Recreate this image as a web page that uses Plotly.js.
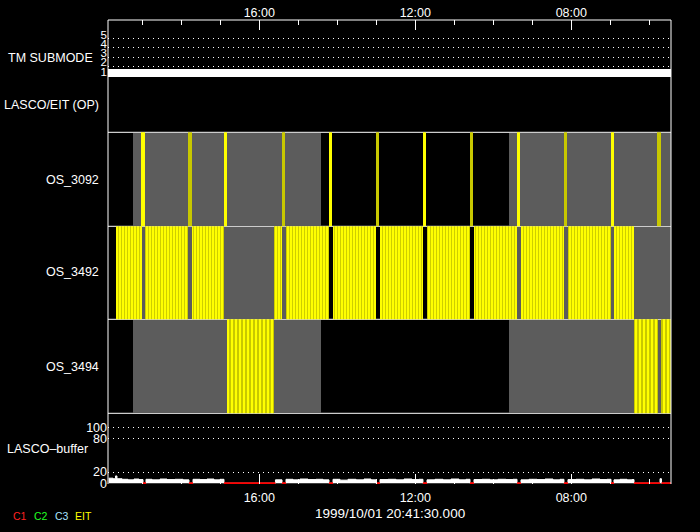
<!DOCTYPE html>
<html>
<head>
<meta charset="utf-8">
<script src="https://cdn.plot.ly/plotly-3.0.1.min.js"></script>
<style>
  html, body { margin: 0; padding: 0; background: #000; }
  #chart { width: 700px; height: 532px; }
</style>
</head>
<body>
<div id="chart"></div>
<script>
// ---- DATA (time in hours since 1999/10/01 20:41:30) ----
const startLabel = '1999/10/01 20:41:30.000';
const majorTickHours = [19.3083, 39.3083, 59.3083];
const majorTickText = ['16:00', '12:00', '08:00'];

// TM submode
const tmHours = [-0.09, 72.09];
const tmSubmode = [1, 1];
const tmTickVals = [1, 2, 3, 4, 5];

// planned (grey) periods, shared by the OS rows
const plannedStart = [3.12, 51.32];
const plannedEnd = [27.22, 72.09];

// OS_3092 single exposures
const os3092Start = [4.14, 10.17, 14.78, 22.22, 28.24, 34.27, 40.29, 46.32, 52.35, 58.37, 64.40, 70.29];
const os3092End   = [4.65, 10.68, 15.17, 22.60, 28.63, 34.65, 40.68, 46.71, 52.73, 58.76, 64.78, 70.81];

// OS_3492 exposure sequences
const os3492Start = [0.94, 4.65, 10.68, 21.19, 22.73, 28.76, 34.78, 40.81, 46.83, 52.86, 58.88, 64.78];
const os3492End   = [4.27, 10.17, 14.78, 22.22, 28.24, 34.27, 40.29, 46.32, 52.35, 58.37, 64.40, 67.35];

// OS_3494 exposure sequences
const os3494Start = [15.17, 67.35, 70.81];
const os3494End   = [21.19, 70.42, 72.09];

// LASCO buffer
const bufferHours = [0, 0.55, 0.87, 1.06, 1.71, 2.47, 3.24, 3.88, 4.40, 4.78, 5.55, 6.58, 7.47, 8.50, 9.53,
  10.29, 10.81, 11.71, 12.60, 13.50, 14.27, 14.78, 21.38, 22.22, 22.73, 23.63, 24.53, 25.55, 26.58, 27.47,
  28.24, 28.76, 29.65, 30.68, 31.71, 32.73, 33.63, 34.27, 34.78, 35.81, 36.83, 37.86, 38.88, 39.78,
  40.29, 40.81, 41.83, 42.86, 43.88, 44.91, 45.81, 46.32, 46.83, 47.86, 48.88, 49.91, 50.94, 51.83,
  52.35, 52.86, 53.88, 54.91, 55.94, 56.96, 57.86, 58.37, 58.88, 59.91, 60.94, 61.96, 62.99, 63.88,
  64.40, 64.78, 65.55, 66.45, 67.09, 67.35, 70.68, 70.87, 72.09];
const bufferValues = [9, 8, 13, 8, 7, 6, 7.5, 6.5, 0, 7, 6, 7.5, 6.5, 7, 6,
  0, 7, 6.5, 7.5, 6, 7, 0, 6, 0, 7, 6, 7.5, 6.5, 7, 6,
  0, 7, 5.5, 7, 6, 7.5, 6, 0, 6.5, 7, 6, 7.5, 6.5, 7,
  0, 6, 7, 6, 7.5, 6, 7, 0, 6.5, 7, 6, 7, 6.5, 7,
  0, 6, 7, 6.5, 7.5, 6, 7, 0, 6.5, 7, 6, 7.5, 6.5, 7,
  0, 6, 7, 6, 6.5, 0, 8, 0, 0];
const c1ZeroStart = [4.40, 10.29, 14.78, 22.22, 28.24, 34.27, 40.29, 46.32, 52.35, 58.37, 64.40, 67.35, 70.87];
const c1ZeroEnd   = [4.78, 10.81, 21.38, 22.73, 28.76, 34.78, 40.81, 46.83, 52.86, 58.88, 64.78, 70.68, 72.09];

const rowLabels = ['TM SUBMODE', 'LASCO/EIT (OP)', 'OS_3092', 'OS_3492', 'OS_3494', 'LASCO\u2013buffer'];
const legendNames = ['C1', 'C2', 'C3', 'EIT'];

// ---- STYLE ----
const GREY = '#5c5c5c', YEL = '#ffff00', DYEL = '#c8c800';
const FONT = 'Liberation Sans, Arial, sans-serif';
const legendColors = ['#ff2020', '#20ff20', '#a8e4ff', '#ffff00'];

function hbar(starts, ends, yaxis, color, width, pattern) {
  const m = { color: color, line: { width: 0 } };
  if (pattern) m.pattern = pattern;
  return {
    type: 'bar', orientation: 'h', xaxis: 'x', yaxis: yaxis,
    y: starts.map(() => 0), base: starts, x: ends.map((e, i) => e - starts[i]),
    width: width, marker: m, hoverinfo: 'skip', showlegend: false
  };
}
const evenIdx = (arr) => arr.filter((_, i) => i % 2 === 0);
const oddIdx = (arr) => arr.filter((_, i) => i % 2 === 1);

const traces = [];
['y4', 'y3', 'y2'].forEach(ax => traces.push(hbar(plannedStart, plannedEnd, ax, GREY, 0.985)));
traces.push(hbar(evenIdx(os3092Start), evenIdx(os3092End), 'y4', YEL, 1.02));
traces.push(hbar(oddIdx(os3092Start), oddIdx(os3092End), 'y4', DYEL, 1.02));
traces.push(hbar(os3492Start, os3492End, 'y3', YEL, 1.02,
  { shape: '|', fgcolor: DYEL, bgcolor: YEL, size: 3, solidity: 0.3, fillmode: 'replace' }));
traces.push(hbar(os3494Start, os3494End, 'y2', YEL, 1.02,
  { shape: '|', fgcolor: DYEL, bgcolor: YEL, size: 4, solidity: 0.5, fillmode: 'replace' }));
traces.push({ type: 'scatter', mode: 'lines', xaxis: 'x2', yaxis: 'y6', x: tmHours, y: tmSubmode,
  line: { color: '#ffffff', width: 13 }, hoverinfo: 'skip', showlegend: false });
traces.push({ type: 'scatter', mode: 'lines', xaxis: 'x', yaxis: 'y', x: bufferHours, y: bufferValues,
  line: { color: '#ffffff', width: 1, shape: 'hv' }, fill: 'tozeroy', fillcolor: '#ffffff',
  hoverinfo: 'skip', showlegend: false });
const redX = [], redY = [];
c1ZeroStart.forEach((s, i) => { redX.push(s, c1ZeroEnd[i], null); redY.push(0, 0, null); });
traces.push({ type: 'scatter', mode: 'lines', xaxis: 'x', yaxis: 'y', x: redX, y: redY,
  line: { color: '#ff0000', width: 2 }, connectgaps: false, hoverinfo: 'skip', showlegend: false });

// ---- LAYOUT ----
const L = 108, R = 29, T = 20, B = 48, W = 700, H = 532;
const PW = W - L - R, PH = H - T - B;
const px2x = (px) => (px - L) / PW;
const py2y = (py) => (H - B - py) / PH;

const xCommon = {
  range: [-0.09, 72.09], showgrid: false, zeroline: false, showline: false,
  tickmode: 'array', tickvals: majorTickHours, ticktext: majorTickText,
  ticks: 'inside', ticklen: 10, tickcolor: '#ffffff', tickwidth: 1,
  tickfont: { family: FONT, size: 12.5, color: '#ffffff' },
  minor: { ticks: 'inside', ticklen: 5, tickcolor: '#ffffff', tickmode: 'linear', tick0: 4.3083, dtick: 5, showgrid: false }
};
const hidden = { showgrid: false, zeroline: false, showline: false, showticklabels: false, ticks: '', range: [-0.5, 0.5], fixedrange: true };
const dotted = '1px,4px';

const sepY = [413.3, 319.3, 226.3, 132.3];
const shapes = sepY.map(py => ({ type: 'line', xref: 'paper', yref: 'paper', x0: 0, x1: 1,
  y0: py2y(py), y1: py2y(py), line: { color: '#ffffff', width: 1 }, layer: 'below' }));
[[0, 0, 0, 1], [1, 1, 0, 1], [0, 1, 1, 1]].forEach(c => shapes.push({ type: 'line', xref: 'paper', yref: 'paper',
  x0: c[0], x1: c[1], y0: c[2], y1: c[3], line: { color: '#ffffff', width: 1 }, layer: 'above' }));

const labelPos = [[95, 58], [101, 105], [101, 180], [101, 272], [101, 367], [90, 449]];
const annotations = rowLabels.map((t, i) => ({
  text: t, xref: 'paper', yref: 'paper', x: px2x(labelPos[i][0]), y: py2y(labelPos[i][1]),
  xanchor: 'right', yanchor: 'middle', showarrow: false,
  font: { family: FONT, size: 12.5, color: '#ffffff' }
}));
annotations.push({ text: startLabel, xref: 'paper', yref: 'paper', x: px2x(390), y: py2y(513),
  xanchor: 'center', yanchor: 'middle', showarrow: false, font: { family: FONT, size: 13.5, color: '#ffffff' } });
const legX = [19.5, 41, 62, 83.5];
legendNames.forEach((n, i) => annotations.push({ text: n, xref: 'paper', yref: 'paper',
  x: px2x(legX[i]), y: py2y(516), xanchor: 'center', yanchor: 'middle', showarrow: false,
  font: { family: FONT, size: 10.5, color: legendColors[i] } }));

const layout = {
  width: W, height: H, margin: { l: L, r: R, t: T, b: B, pad: 0 },
  paper_bgcolor: '#000000', plot_bgcolor: '#000000',
  barmode: 'overlay', bargap: 0, showlegend: false,
  xaxis: Object.assign({ anchor: 'y', side: 'bottom', domain: [0, 1], ticklabelstandoff: 4 }, xCommon),
  xaxis2: Object.assign({ anchor: 'y6', side: 'top', overlaying: 'x', matches: 'x' }, xCommon),
  yaxis: { domain: [0, py2y(413.3)], range: [-1.4, 125.3], anchor: 'x',
    tickmode: 'array', tickvals: [0, 20, 80, 100], ticks: '', showline: false, zeroline: false,
    showgrid: true, gridcolor: '#ffffff', gridwidth: 1, griddash: dotted,
    tickfont: { family: FONT, size: 12.5, color: '#ffffff' }, fixedrange: true },
  yaxis2: Object.assign({ domain: [py2y(413.3), py2y(319.3)], anchor: 'x' }, hidden),
  yaxis3: Object.assign({ domain: [py2y(319.3), py2y(226.3)], anchor: 'x' }, hidden),
  yaxis4: Object.assign({ domain: [py2y(226.3), py2y(132.3)], anchor: 'x' }, hidden),
  yaxis6: { domain: [py2y(77), 1], range: [0.85, 7.03], anchor: 'x2',
    tickmode: 'array', tickvals: tmTickVals, ticks: '', showline: false, zeroline: false,
    showgrid: true, gridcolor: '#ffffff', gridwidth: 1, griddash: dotted, ticklabelshift: -4,
    tickfont: { family: FONT, size: 11.5, color: '#ffffff' }, fixedrange: true },
  shapes: shapes,
  annotations: annotations
};

Plotly.newPlot('chart', traces, layout, { staticPlot: true, displayModeBar: false });
</script>
</body>
</html>
